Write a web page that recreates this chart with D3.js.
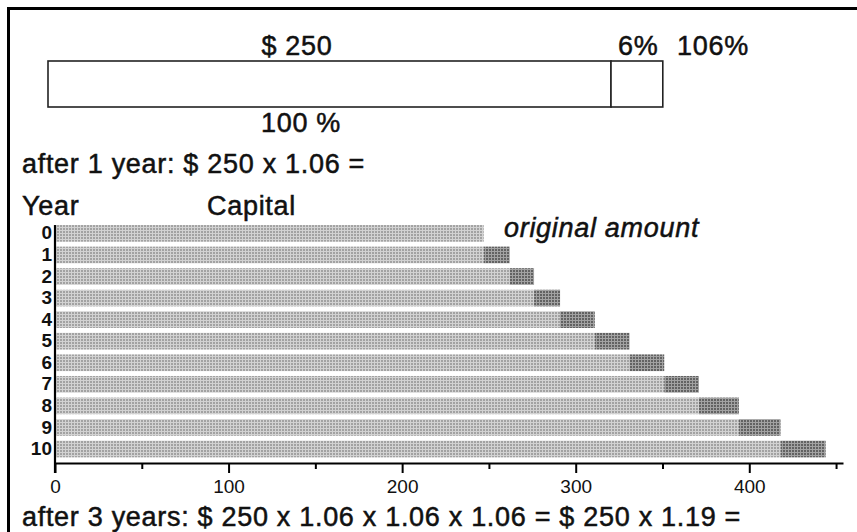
<!DOCTYPE html>
<html>
<head>
<meta charset="utf-8">
<script src="https://cdn.jsdelivr.net/npm/d3@7"></script>
<style>
  body { margin: 0; background: #fff; }
  text { font-family: "Liberation Sans", Arial, Helvetica, sans-serif; fill: #111; }
</style>
</head>
<body>
<svg id="chart" width="857" height="532"></svg>
<script>
// capital at the end of each year
const years = [0, 1, 2, 3, 4, 5, 6, 7, 8, 9, 10]
const capital = [247, 262, 276, 291, 311, 331, 351, 371, 394, 418, 444]
const xTicks = [0, 100, 200, 300, 400]
const xMinorTicks = [50, 150, 250, 350, 450]

// the schematic box at the top: widths as drawn (base part, interest part)
const boxParts = [100, 9.2]
const boxTopLabels = ['$ 250', '6%', '106%']
const boxBottomLabel = '100 %'

const line1 = 'after 1 year: $ 250 x 1.06 ='
const line3 = 'after 3 years: $ 250 x 1.06 x 1.06 x 1.06 = $ 250 x 1.19 ='

const svg = d3.select('#chart')

// halftone-like fills: small dot grid on a grey ground
const defs = svg.append('defs')
function halftone (id, ground, dot) {
  const p = defs.append('pattern')
    .attr('id', id)
    .attr('width', 3).attr('height', 3)
    .attr('patternUnits', 'userSpaceOnUse')
  p.append('rect').attr('width', 3).attr('height', 3).attr('fill', ground)
  p.append('rect').attr('width', 2).attr('height', 2).attr('fill', dot)
}
halftone('light', '#d2d2d2', '#a2a2a2')
halftone('dark', '#a2a2a2', '#626262')

// frame (only top and left edges are in view)
svg.append('rect')
  .attr('x', 8.5).attr('y', 8.5)
  .attr('width', 1000).attr('height', 1000)
  .attr('fill', 'none')
  .attr('stroke', '#000')
  .attr('stroke-width', 3)

// --- top box ---
const boxX = d3.scaleLinear().domain([0, 100]).range([48, 611])
let acc = 0
const boxSegs = boxParts.map(v => { const s = { x0: acc, x1: acc + v }; acc += v; return s })
svg.append('g').selectAll('rect')
  .data(boxSegs)
  .join('rect')
  .attr('x', d => boxX(d.x0))
  .attr('y', 61)
  .attr('width', d => boxX(d.x1) - boxX(d.x0))
  .attr('height', 46)
  .attr('fill', '#fff')
  .attr('stroke', '#222')
  .attr('stroke-width', 1.6)

// big text, slightly stroked so it looks as heavy as the printed original
function label (txt, x, y, anchor, extra) {
  const t = svg.append('text')
    .attr('x', x).attr('y', y)
    .attr('text-anchor', anchor || 'start')
    .style('font-size', '27px')
    .style('letter-spacing', '0.7px')
    .style('stroke', '#111')
    .style('stroke-width', '0.5px')
    .text(txt)
  if (extra) extra(t)
  return t
}

label(boxTopLabels[0], 297, 55, 'middle')
label(boxTopLabels[1], 618, 55)
label(boxTopLabels[2], 677, 55)
label(boxBottomLabel, 301, 132, 'middle')
label(line1, 22, 173)

// --- bar chart ---
const x = d3.scaleLinear().domain([0, 454]).range([55, 843])
const y = d3.scaleBand().domain(years).range([222.6, 459.8]).paddingInner(0.226).paddingOuter(0.113)

label('Year', 22, 215)
label('Capital', 207, 215)
label('original amount', 504, 237, 'start', t => t.style('font-style', 'italic'))

const rows = years.map((yr, i) => ({
  year: yr,
  base: i === 0 ? capital[0] : capital[i - 1],
  total: capital[i]
}))

const bars = svg.append('g')
bars.selectAll('rect.base')
  .data(rows)
  .join('rect')
  .attr('class', 'base')
  .attr('x', x(0))
  .attr('y', d => y(d.year))
  .attr('width', d => x(d.base) - x(0))
  .attr('height', y.bandwidth())
  .attr('fill', 'url(#light)')

bars.selectAll('rect.interest')
  .data(rows.filter(d => d.total > d.base))
  .join('rect')
  .attr('class', 'interest')
  .attr('x', d => x(d.base))
  .attr('y', d => y(d.year))
  .attr('width', d => x(d.total) - x(d.base))
  .attr('height', y.bandwidth())
  .attr('fill', 'url(#dark)')

// x axis
const axisY = 463
const xAxis = svg.append('g')
  .attr('transform', `translate(0,${axisY})`)
  .call(d3.axisBottom(x).tickValues(xTicks).tickSize(10).tickSizeOuter(0).tickPadding(7))
xAxis.select('.domain').attr('stroke', '#000').attr('stroke-width', 2.2)
xAxis.selectAll('.tick line').attr('stroke', '#000').attr('stroke-width', 2)
xAxis.selectAll('.tick text')
  .style('font-size', '19px')
  .style('font-family', '"Liberation Sans", Arial, sans-serif')
  .attr('fill', '#111')

svg.append('g')
  .attr('transform', `translate(0,${axisY})`)
  .call(d3.axisBottom(x).tickValues(xMinorTicks).tickSize(6).tickFormat(''))
  .call(g => g.select('.domain').remove())
  .selectAll('.tick line').attr('stroke', '#000').attr('stroke-width', 2)

// y axis
const yAxis = svg.append('g')
  .attr('transform', `translate(${x(0)},0)`)
  .call(d3.axisLeft(y).tickSize(0).tickPadding(3))
yAxis.select('.domain').remove()
yAxis.selectAll('.tick text')
  .style('font-size', '19px')
  .style('font-weight', 'bold')
  .style('font-family', '"Liberation Sans", Arial, sans-serif')
  .attr('fill', '#111')

svg.append('line')
  .attr('x1', x(0)).attr('x2', x(0))
  .attr('y1', y(0)).attr('y2', axisY + 10)
  .attr('stroke', '#000')
  .attr('stroke-width', 2.2)

label(line3, 22, 526)
</script>
</body>
</html>
